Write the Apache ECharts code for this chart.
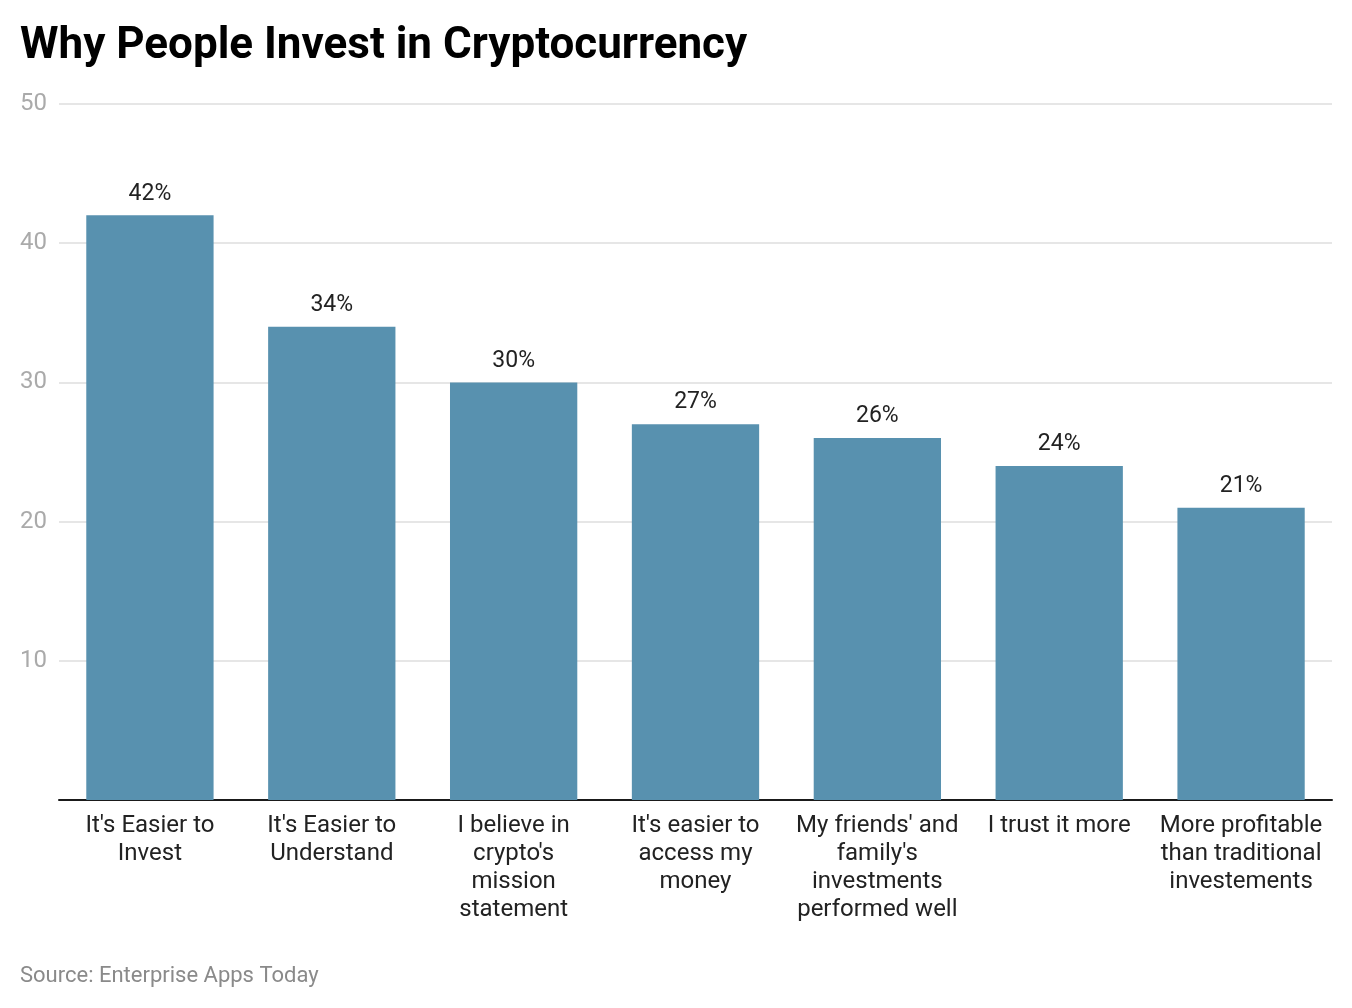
<!DOCTYPE html>
<html>
<head>
<meta charset="utf-8">
<script src="https://cdn.jsdelivr.net/npm/echarts@6/dist/echarts.min.js"></script>
<style>
html,body{margin:0;padding:0;background:#fff;}
#chart{width:1352px;height:1008px;}
</style>
</head>
<body>
<div id="chart"></div>
<script>
const categories = [
  "It's Easier to\nInvest",
  "It's Easier to\nUnderstand",
  "I believe in\ncrypto's\nmission\nstatement",
  "It's easier to\naccess my\nmoney",
  "My friends' and\nfamily's\ninvestments\nperformed well",
  "I trust it more",
  "More profitable\nthan traditional\ninvestements"
];
const values = [42, 34, 30, 27, 26, 24, 21];
const yTicks = [0, 10, 20, 30, 40, 50];

const chart = echarts.init(document.getElementById('chart'));
chart.setOption({
  animation: false,
  backgroundColor: '#ffffff',
  textStyle: { fontFamily: 'Roboto' },
  title: [{
    text: 'Why People Invest in Cryptocurrency',
    left: 15, top: 20,
    textStyle: { fontFamily: 'Roboto', fontWeight: 'bold', fontSize: 44, color: '#000' }
  }, {
    text: 'Source: Enterprise Apps Today',
    left: 15, top: 960,
    textStyle: { fontFamily: 'Roboto', fontWeight: 'normal', fontSize: 22, color: '#8a8a8a' }
  }],
  grid: { left: 59, right: 20, top: 104, bottom: 208, containLabel: false },
  xAxis: {
    type: 'category',
    data: categories,
    axisLine: { show: true, lineStyle: { color: '#1a1a1a', width: 2 } },
    axisTick: { show: false },
    axisLabel: { interval: 0, margin: 12, fontSize: 24, lineHeight: 28, color: '#222', fontFamily: 'Roboto', align: 'center' }
  },
  yAxis: {
    type: 'value',
    min: yTicks[0], max: yTicks[yTicks.length - 1], interval: 10,
    axisLine: { show: false },
    axisTick: { show: false },
    splitLine: { lineStyle: { color: '#e6e6e6', width: 2 } },
    axisLabel: {
      fontSize: 24, color: '#aaaaaa', fontFamily: 'Roboto', margin: 12,
      formatter: v => v === 0 ? '' : String(v)
    }
  },
  series: [{
    type: 'bar',
    data: values,
    barWidth: '70%',
    itemStyle: { color: '#5891AF' },
    label: {
      show: true, position: 'top', distance: 10,
      formatter: p => p.value + '%',
      fontSize: 23, color: '#222', fontFamily: 'Roboto'
    }
  }]
});
</script>
</body>
</html>
